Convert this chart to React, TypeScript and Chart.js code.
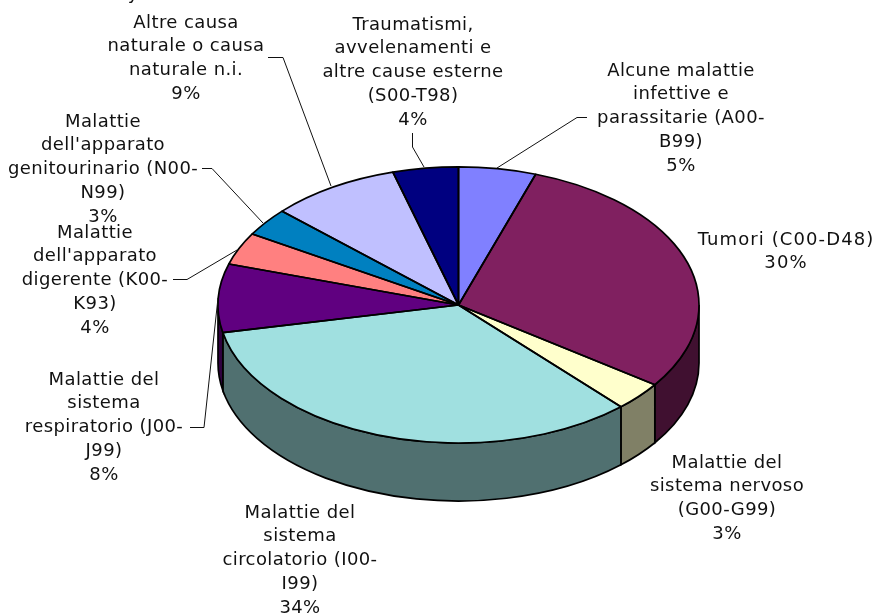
import React, { useEffect, useRef } from "react";
import { Chart, registerables } from "chart.js";

Chart.register(...registerables);

const categories = [
  "Alcune malattie infettive e parassitarie (A00-B99)",
  "Tumori (C00-D48)",
  "Malattie del sistema nervoso (G00-G99)",
  "Malattie del sistema circolatorio (I00-I99)",
  "Malattie del sistema respiratorio (J00-J99)",
  "Malattie dell'apparato digerente (K00-K93)",
  "Malattie dell'apparato genitourinario (N00-N99)",
  "Altre causa naturale o causa naturale n.i.",
  "Traumatismi, avvelenamenti e altre cause esterne (S00-T98)",
];
const values = [5.2, 29.6, 3.4, 33.6, 8, 3.8, 3.3, 8.7, 4.4];
const topColors = ["#8080FF", "#802060", "#FFFFCC", "#A0E0E0", "#600080", "#FF8080", "#0080C0", "#C0C0FF", "#000080"];
const sideColors = ["#404080", "#401030", "#808066", "#507070", "#300040", "#804040", "#004060", "#606080", "#000040"];
const labelLines = [
  ["Alcune malattie", "infettive e", "parassitarie (A00-", "B99)"],
  ["Tumori (C00-D48)"],
  ["Malattie del", "sistema nervoso", "(G00-G99)"],
  ["Malattie del", "sistema", "circolatorio (I00-", "I99)"],
  ["Malattie del", "sistema", "respiratorio (J00-", "J99)"],
  ["Malattie", "dell'apparato", "digerente (K00-", "K93)"],
  ["Malattie", "dell'apparato", "genitourinario (N00-", "N99)"],
  ["Altre causa", "naturale o causa", "naturale n.i."],
  ["Traumatismi,", "avvelenamenti e", "altre cause esterne", "(S00-T98)"],
];
// centre x and first-line centre y of each label block
const labelAnchors = [
  [681, 71], [786, 240], [727, 463], [300, 513], [104, 380], [95, 233], [103, 122], [186, 23], [413, 25],
];
const labelTracking = ["0.4px", "1.1px", "0.4px", "0.4px", "0.4px", "0.4px", "0.4px", "0.4px", "0.4px"];
const leaders = [
  [[587, 117.5], [577, 117.5], [497, 168]],
  [],
  [],
  [],
  [[190, 427.5], [204, 427.5], [218, 298]],
  [[173, 279.5], [187, 279.5], [237, 250]],
  [[202, 168.5], [212, 168.5], [263, 223]],
  [[268, 57.5], [283, 57.5], [331, 186]],
  [[412.5, 133], [412.5, 147], [424, 167]],
];

const RADIUS = 240.5;
const SQUASH = 0.574;
const DEPTH = 58;
const LINE_HEIGHT = 23.8;
const EDGE = 1.7;

const pie3d = {
  id: "pie3d",
  beforeDatasetsDraw(chart: any) {
    const ctx = chart.ctx;
    const arcs = chart.getDatasetMeta(0).data;
    ctx.save();
    ctx.lineWidth = EDGE;
    ctx.strokeStyle = "#000";
    arcs.forEach((el: any, i: number) => {
      const a = Math.max(el.startAngle, 0);
      const b = Math.min(el.endAngle, Math.PI);
      if (b <= a) return;
      const rx = el.outerRadius;
      const ry = rx * SQUASH;
      ctx.beginPath();
      ctx.ellipse(el.x, el.y, rx, ry, 0, a, b);
      ctx.ellipse(el.x, el.y + DEPTH, rx, ry, 0, b, a, true);
      ctx.closePath();
      ctx.fillStyle = sideColors[i];
      ctx.fill();
      ctx.stroke();
    });
    ctx.restore();
    const cy = arcs[0].y;
    ctx.save();
    ctx.translate(0, cy);
    ctx.scale(1, SQUASH);
    ctx.translate(0, -cy);
  },
  afterDatasetsDraw(chart: any) {
    const ctx = chart.ctx;
    ctx.restore();
    const arcs = chart.getDatasetMeta(0).data;
    ctx.save();
    ctx.lineWidth = EDGE;
    ctx.strokeStyle = "#000";
    ctx.lineJoin = "round";
    arcs.forEach((el: any) => {
      const rx = el.outerRadius;
      ctx.beginPath();
      ctx.moveTo(el.x, el.y);
      ctx.ellipse(el.x, el.y, rx, rx * SQUASH, 0, el.startAngle, el.endAngle);
      ctx.closePath();
      ctx.stroke();
    });
    ctx.lineWidth = 1;
    ctx.strokeStyle = "#111";
    leaders.forEach((pts) => {
      if (!pts.length) return;
      ctx.beginPath();
      pts.forEach(([x, y], k) => (k ? ctx.lineTo(x, y) : ctx.moveTo(x, y)));
      ctx.stroke();
    });
    ctx.fillStyle = "#111";
    ctx.font = '18px "DejaVu Sans"';
    ctx.textAlign = "center";
    ctx.textBaseline = "middle";
    categories.forEach((_, i) => {
      const [x, y0] = labelAnchors[i];
      ctx.letterSpacing = labelTracking[i];
      const lines = [...labelLines[i], `${Math.round(values[i])}%`];
      lines.forEach((t, k) => ctx.fillText(t, x, y0 + k * LINE_HEIGHT));
    });
    ctx.letterSpacing = "0px";
    ctx.textBaseline = "alphabetic";
    ctx.fillText("y", 133, -1.5);
    ctx.restore();
  },
};

export default function App() {
  const ref = useRef<HTMLCanvasElement>(null);
  useEffect(() => {
    const chart = new Chart(ref.current!, {
      type: "pie",
      data: {
        labels: categories,
        datasets: [{ data: values, backgroundColor: topColors, borderWidth: 0, radius: RADIUS }],
      },
      options: {
        responsive: false,
        animation: false,
        layout: { padding: { left: 41, bottom: 3 } },
        plugins: { legend: { display: false }, tooltip: { enabled: false } },
      },
      plugins: [pie3d],
    } as any);
    return () => chart.destroy();
  }, []);
  return <canvas ref={ref} width={876} height={613} style={{ position: "absolute", left: 0, top: 0 }} />;
}
